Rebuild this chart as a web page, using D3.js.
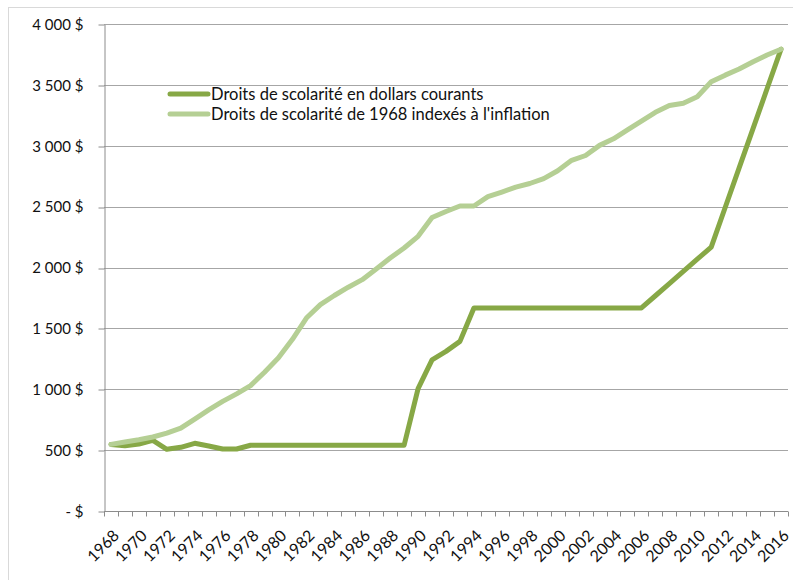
<!DOCTYPE html>
<html>
<head>
<meta charset="utf-8">
<script src="https://cdn.jsdelivr.net/npm/d3@7"></script>
<style>
  body { margin: 0; background: #fff; }
  svg { display: block; font-family: Lato, "Open Sans", sans-serif; }
</style>
</head>
<body>
<svg id="chart" width="793" height="580"></svg>
<script>
// années 1968 à 2016
const years = d3.range(1968, 2017);

const currentDollars = [
  547, 535, 550, 580, 507, 523, 556, 534, 509, 509,
  540, 540, 540, 540, 540, 540, 540, 540, 540, 540,
  540, 540, 1005, 1242, 1311, 1393, 1668, 1668, 1668, 1668,
  1668, 1668, 1668, 1668, 1668, 1668, 1668, 1668, 1668, 1768,
  1868, 1968, 2068, 2168, 2493, 2818, 3143, 3468, 3793
];

const indexedInflation = [
  547, 566, 585, 608, 640, 680, 755, 830, 900, 962,
  1030, 1140, 1258, 1410, 1585, 1695, 1770, 1838, 1900, 1988,
  2078, 2160, 2256, 2410, 2460, 2505, 2505, 2582, 2620, 2660,
  2690, 2730, 2795, 2880, 2920, 3003, 3057, 3131, 3202, 3275,
  3330, 3349, 3403, 3525, 3580, 3630, 3690, 3745, 3793
];

const yTicks = [0, 500, 1000, 1500, 2000, 2500, 3000, 3500, 4000];
const yTickLabels = ['- $', '500 $', '1 000 $', '1 500 $', '2 000 $', '2 500 $', '3 000 $', '3 500 $', '4 000 $'];

const seriesNames = [
  'Droits de scolarité en dollars courants',
  "Droits de scolarité de 1968 indexés à l'inflation"
];
const seriesColors = ['#87a846', '#b5cf94'];

const svg = d3.select('#chart');
const width = 793;
const height = 580;
const margin = { top: 24, right: 5, bottom: 69, left: 104 };

// cadre du graphique
svg.append('rect')
  .attr('x', 8.5).attr('y', 7.5)
  .attr('width', 800).attr('height', 600)
  .attr('fill', 'none')
  .attr('stroke', '#d9d9d9');

const x = d3.scaleBand()
  .domain(years)
  .range([margin.left, width - margin.right]);

const y = d3.scaleLinear()
  .domain([0, 4000])
  .range([height - margin.bottom, margin.top]);

// lignes de grille
svg.append('g')
  .selectAll('line')
  .data(yTicks.slice(1))
  .enter().append('line')
  .attr('x1', margin.left)
  .attr('x2', width - margin.right)
  .attr('y1', d => Math.round(y(d)) + 0.5)
  .attr('y2', d => Math.round(y(d)) + 0.5)
  .attr('stroke', '#a6a6a6');

// axe Y
const yAxis = svg.append('g')
  .attr('transform', `translate(${margin.left + 0.5},0.5)`)
  .call(d3.axisLeft(y)
    .tickValues(yTicks)
    .tickSize(6)
    .tickSizeOuter(0)
    .tickFormat((d, i) => yTickLabels[i]));
yAxis.select('.domain').attr('stroke', '#8c8c8c');
yAxis.selectAll('.tick line').attr('stroke', '#8c8c8c');
yAxis.selectAll('.tick line').attr('transform', d => `translate(0,${Math.round(y(d)) - y(d)})`);
yAxis.selectAll('text')
  .attr('x', -21)
  .attr('font-size', '15px')
  .attr('font-family', 'Lato, sans-serif')
  .attr('fill', '#111');

// axe X: graduations entre les catégories
const xg = svg.append('g')
  .attr('transform', `translate(0,${Math.round(y(0)) + 0.5})`);
xg.append('line')
  .attr('x1', margin.left).attr('x2', width - margin.right)
  .attr('stroke', '#8c8c8c');
xg.selectAll('.tk')
  .data(years.concat([2017]))
  .enter().append('line')
  .attr('class', 'tk')
  .attr('x1', d => Math.round(d === 2017 ? x.range()[1] : x(d)) + 0.5)
  .attr('x2', d => Math.round(d === 2017 ? x.range()[1] : x(d)) + 0.5)
  .attr('y1', 0).attr('y2', 5)
  .attr('stroke', '#8c8c8c');

xg.selectAll('.lbl')
  .data(years.filter(d => d % 2 === 0))
  .enter().append('text')
  .attr('class', 'lbl')
  .attr('transform', d => `translate(${x(d) + x.bandwidth() / 2 + 1},${17}) rotate(-45)`)
  .attr('text-anchor', 'end')
  .attr('dy', '0.72em')
  .attr('font-size', '16px')
  .attr('fill', '#111')
  .text(d => d);

// courbes
const line = d3.line()
  .x((d, i) => x(years[i]) + x.bandwidth() / 2)
  .y(d => y(d));

[currentDollars, indexedInflation].forEach((values, k) => {
  svg.append('path')
    .datum(values)
    .attr('d', line)
    .attr('fill', 'none')
    .attr('stroke', seriesColors[k])
    .attr('stroke-width', 5)
    .attr('stroke-linejoin', 'round')
    .attr('stroke-linecap', 'round');
});

// légende
const legend = svg.append('g');
seriesNames.forEach((name, k) => {
  const ly = 94 + k * 20;
  legend.append('line')
    .attr('x1', 170).attr('x2', 208)
    .attr('y1', ly).attr('y2', ly)
    .attr('stroke', seriesColors[k])
    .attr('stroke-width', 5)
    .attr('stroke-linecap', 'round');
  legend.append('text')
    .attr('x', 211)
    .attr('y', ly + 6)
    .attr('font-size', '16.5px')
    .attr('fill', '#111')
    .text(name);
});
</script>
</body>
</html>
